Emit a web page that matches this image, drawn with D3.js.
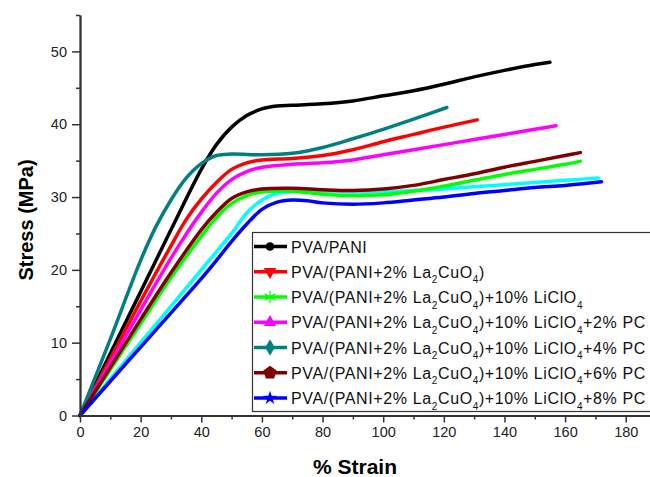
<!DOCTYPE html>
<html>
<head>
<meta charset="utf-8">
<script src="https://cdn.jsdelivr.net/npm/d3@7"></script>
<style>
  body { margin: 0; background: #fff; }
  svg { display: block; font-family: "Liberation Sans", Arial, sans-serif; }
</style>
</head>
<body>
<div class="drawingboard"></div>
<script>
// stress-strain curves, [% strain, stress MPa]
var pvaPani = [[0,0],[10,8.5],[20,17],[30,25.5],[40,33.8],[45,37.2],[50,39.6],[55,41.2],[60,42.1],[65,42.5],[70,42.6],[80,42.8],[90,43.2],[100,43.9],[110,44.6],[120,45.5],[130,46.5],[140,47.4],[150,48.2],[155,48.5]];
var la2 = [[0,0],[10,7.8],[20,15.7],[30,23.3],[35,26.9],[40,29.7],[45,32],[50,33.8],[55,34.7],[60,35.1],[70,35.3],[80,35.7],[90,36.5],[100,37.6],[110,38.6],[120,39.6],[131,40.6]];
var licl = [[0,0],[10,6.3],[20,12.6],[30,18.9],[40,24.6],[45,27.2],[50,29.1],[55,30.2],[60,30.7],[70,30.8],[80,30.4],[90,30.2],[100,30.3],[110,30.8],[120,31.5],[130,32.3],[140,33.1],[150,33.8],[160,34.5],[165,34.9]];
var pc2 = [[0,0],[10,7.2],[20,14.5],[30,21.6],[35,24.9],[40,27.9],[45,30.5],[50,32.4],[55,33.5],[60,34.1],[70,34.5],[80,34.7],[90,35.1],[100,35.8],[110,36.5],[120,37.2],[130,37.9],[140,38.6],[150,39.3],[157,39.8]];
var pc4 = [[0,0],[10,10.5],[20,21.3],[25,25.9],[30,29.6],[35,32.6],[40,34.6],[45,35.7],[50,35.9],[60,35.8],[70,36.0],[80,36.8],[90,38],[100,39.3],[110,40.7],[121,42.3]];
var pc6 = [[0,0],[10,6.6],[20,13.2],[30,19.6],[40,25.5],[45,27.9],[50,29.8],[55,30.7],[60,31.1],[70,31.2],[80,31.0],[90,30.9],[100,31.1],[110,31.6],[120,32.4],[130,33.2],[140,34.1],[150,34.9],[160,35.7],[165,36.1]];
var pc8 = [[0,0],[10,4.7],[20,9.4],[30,14.1],[40,18.8],[45,21.3],[50,23.9],[55,26.3],[60,28.3],[65,29.3],[70,29.6],[75,29.5],[80,29.2],[90,29.0],[100,29.2],[110,29.6],[120,30],[130,30.5],[140,30.9],[150,31.3],[160,31.6],[172,32.1]];
// extra cyan curve that has no legend entry
var unlabelled = [[0,0],[10,5],[20,10],[30,15],[40,20],[50,25],[55,27.8],[60,29.6],[65,30.5],[70,30.8],[80,30.8],[90,30.7],[100,30.7],[110,30.9],[120,31.1],[130,31.4],[140,31.7],[150,32],[160,32.3],[171,32.6]];

var xTicks = [0, 20, 40, 60, 80, 100, 120, 140, 160, 180];
var yTicks = [0, 10, 20, 30, 40, 50];

var series = [
    { name: "PVA/PANI", data: pvaPani, color: "#000000", marker: "circle" },
    { name: "la2", data: la2, color: "#ff0000", marker: "tridown" },
    { name: "licl", data: licl, color: "#00ff00", marker: "asterisk" },
    { name: "pc2", data: pc2, color: "#ff00ff", marker: "triup" },
    { name: "pc4", data: pc4, color: "#008080", marker: "diamond" },
    { name: "pc6", data: pc6, color: "#800000", marker: "pentagon" },
    { name: "pc8", data: pc8, color: "#0000ff", marker: "star" }
];

var width = 650;
var height = 477;

var svg = d3.select(".drawingboard")
    .append("svg")
    .attr("width", width)
    .attr("height", height);

var x = d3.scaleLinear().domain([0, 188]).range([80, 650]);
var y = d3.scaleLinear().domain([0, 55]).range([415.5, 15]);

// curves
var line = d3.line()
    .x(function (d) { return x(d[0]); })
    .y(function (d) { return y(d[1]); })
    .curve(d3.curveCatmullRom.alpha(0.5));

var curves = [unlabelled].concat(series.map(function (s) { return s.data; }));
var curveColors = ["#00ffff"].concat(series.map(function (s) { return s.color; }));

svg.append("g").selectAll("path")
    .data(curves)
    .enter().append("path")
    .attr("d", line)
    .attr("fill", "none")
    .attr("stroke", function (d, i) { return curveColors[i]; })
    .attr("stroke-width", 3.5)
    .attr("stroke-linecap", "round");

// axes (major + minor ticks)
svg.append("g")
    .attr("transform", "translate(0," + y(0) + ")")
    .call(d3.axisBottom(x).tickValues(xTicks).tickSize(7).tickPadding(4).tickSizeOuter(0));
svg.append("g")
    .attr("transform", "translate(0," + y(0) + ")")
    .call(d3.axisBottom(x).tickValues(d3.range(10, 190, 20)).tickSize(4).tickFormat("").tickSizeOuter(0));

svg.append("g")
    .attr("transform", "translate(" + x(0) + ",0)")
    .call(d3.axisLeft(y).tickValues(yTicks).tickSize(8).tickPadding(5).tickSizeOuter(0));
svg.append("g")
    .attr("transform", "translate(" + x(0) + ",0)")
    .call(d3.axisLeft(y).tickValues(d3.range(5, 60, 10)).tickSize(4).tickFormat("").tickSizeOuter(0));

svg.selectAll(".domain").attr("stroke", "#333").attr("stroke-width", 1.8);
svg.selectAll(".tick line").attr("stroke", "#333").attr("stroke-width", 1.5);
svg.selectAll(".tick text")
    .attr("font-size", 14.5)
    .attr("font-family", "Liberation Sans, Arial, sans-serif")
    .attr("fill", "#222");

// axis titles
svg.append("text")
    .attr("x", 355)
    .attr("y", 474)
    .attr("text-anchor", "middle")
    .attr("font-weight", "bold")
    .attr("font-size", 21)
    .text("% Strain");

svg.append("text")
    .attr("transform", "translate(33,220) rotate(-90)")
    .attr("text-anchor", "middle")
    .attr("font-weight", "bold")
    .attr("font-size", 20)
    .text("Stress (MPa)");

// legend
var legend = svg.append("g");
legend.append("rect")
    .attr("x", 252.5)
    .attr("y", 232.5)
    .attr("width", 420)
    .attr("height", 179)
    .attr("fill", "#fff")
    .attr("stroke", "#333")
    .attr("stroke-width", 1.2);

var rowY = d3.scaleLinear().domain([0, 6]).range([246.5, 398]);

function pentagon(r) {
    var pts = d3.range(5).map(function (i) {
        var a = -Math.PI / 2 + i * 2 * Math.PI / 5;
        return [r * Math.cos(a), r * Math.sin(a)];
    });
    return "M" + pts.join("L") + "Z";
}

function markerPath(m) {
    if (m === "circle") return d3.symbol(d3.symbolCircle, 60)();
    if (m === "tridown" || m === "triup") return d3.symbol(d3.symbolTriangle, 70)();
    if (m === "asterisk") return d3.symbol(d3.symbolAsterisk, 110)();
    if (m === "diamond") return d3.symbol(d3.symbolDiamond, 80)();
    if (m === "pentagon") return pentagon(7);
    if (m === "star") return d3.symbol(d3.symbolStar, 60)();
}

var rows = legend.selectAll(".row")
    .data(series)
    .enter().append("g")
    .attr("class", "row")
    .attr("transform", function (d, i) { return "translate(0," + rowY(i) + ")"; });

rows.append("line")
    .attr("x1", 254)
    .attr("x2", 287)
    .attr("stroke", function (d) { return d.color; })
    .attr("stroke-width", 3.5);

rows.append("path")
    .attr("d", function (d) { return markerPath(d.marker); })
    .attr("transform", function (d) {
        return "translate(270,0)" + (d.marker === "tridown" ? " rotate(180)" : "");
    })
    .attr("fill", function (d) { return d.marker === "asterisk" ? "none" : d.color; })
    .attr("stroke", function (d) { return d.color; })
    .attr("stroke-width", function (d) { return d.marker === "asterisk" ? 1.2 : 0; });

// label pieces: [text, subscript?]
var labelParts = [
    [["PVA/PANI", 0]],
    [["PVA/(PANI+2% La", 0], ["2", 1], ["CuO", 0], ["4", 1], [")", 0]],
    [["PVA/(PANI+2% La", 0], ["2", 1], ["CuO", 0], ["4", 1], [")+10% LiClO", 0], ["4", 1]],
    [["PVA/(PANI+2% La", 0], ["2", 1], ["CuO", 0], ["4", 1], [")+10% LiClO", 0], ["4", 1], ["+2% PC", 0]],
    [["PVA/(PANI+2% La", 0], ["2", 1], ["CuO", 0], ["4", 1], [")+10% LiClO", 0], ["4", 1], ["+4% PC", 0]],
    [["PVA/(PANI+2% La", 0], ["2", 1], ["CuO", 0], ["4", 1], [")+10% LiClO", 0], ["4", 1], ["+6% PC", 0]],
    [["PVA/(PANI+2% La", 0], ["2", 1], ["CuO", 0], ["4", 1], [")+10% LiClO", 0], ["4", 1], ["+8% PC", 0]]
];

rows.append("text")
    .attr("x", 291)
    .attr("y", 6)
    .attr("font-size", 16)
    .attr("letter-spacing", 0.62)
    .attr("fill", "#111")
    .each(function (d, i) {
        var t = d3.select(this);
        labelParts[i].forEach(function (p, j) {
            var prevSub = j > 0 && labelParts[i][j - 1][1];
            var span = t.append("tspan").text(p[0]);
            if (p[1]) span.attr("font-size", 10).attr("dy", 5.5);
            else if (prevSub) span.attr("dy", -5.5);
        });
    });
</script>
</body>
</html>
